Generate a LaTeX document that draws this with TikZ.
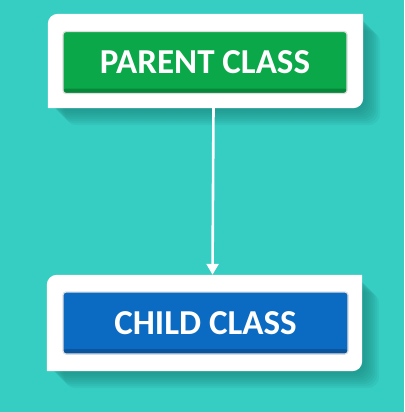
\documentclass[tikz,border=0pt]{standalone}
\usepackage{fontspec}
\setmainfont{Carlito}
\usetikzlibrary{arrows.meta}

\definecolor{bgteal}{HTML}{36CDC2}
\definecolor{shadeteal}{HTML}{1A7F78}
\definecolor{parentgreen}{HTML}{0BA84A}
\definecolor{parentdark}{HTML}{06873A}
\definecolor{childblue}{HTML}{0B6BC2}
\definecolor{childdark}{HTML}{0A559C}

\tikzset{
  card/.style={inner sep=0pt, draw=none},
  classbtn/.style={rounded corners=3pt, draw=gray!25, line width=1.2pt,
    text=white, font=\bfseries\fontsize{35}{38}\selectfont,
    minimum width=284pt, minimum height=62pt, inner sep=0pt},
  inherit/.style={white, line width=2.6pt, -{Triangle[width=12pt,length=11pt]}}
}

\begin{document}
\begin{tikzpicture}[x=1pt,y=-1pt]
		\useasboundingbox (0,0) rectangle (404,412);
		\fill[bgteal] (0,0) rectangle (404,412);
		\node[card, minimum width=315pt, minimum height=94pt] (pcard) at (205.5,61) {};
		\node[card, minimum width=315pt, minimum height=96pt] (ccard) at (204.5,323) {};
		% soft shadows
		\foreach \s in {3,5,...,17}{
			\fill[shadeteal, opacity=0.1, rounded corners=12pt]
				([xshift=\s pt, yshift=-\s pt]pcard.south west) rectangle ([xshift=\s pt, yshift=-\s pt]pcard.north east);
			\fill[shadeteal, opacity=0.1, rounded corners=12pt]
				([xshift=\s pt, yshift=-\s pt]ccard.south west) rectangle ([xshift=\s pt, yshift=-\s pt]ccard.north east);
		}
		% white cards
		\fill[white] (pcard.south west) [rounded corners=10pt] -- (pcard.north west) [sharp corners] -- (pcard.north east) [rounded corners=10pt] -- (pcard.south east) [sharp corners] -- cycle;
		\fill[white] (ccard.south west) [rounded corners=10pt] -- (ccard.north west) [sharp corners] -- (ccard.north east) [rounded corners=10pt] -- (ccard.south east) [sharp corners] -- cycle;
		% buttons
		\node[classbtn, fill=parentgreen, path picture={
			\fill[parentdark] ([yshift=5pt]path picture bounding box.south west) rectangle (path picture bounding box.south east);}]
			(parent) at (205,62.5) {PARENT CLASS};
		\node[classbtn, fill=childblue, minimum width=285pt, path picture={
			\fill[childdark] ([yshift=5pt]path picture bounding box.south west) rectangle (path picture bounding box.south east);}]
			(child) at (205.5,323) {CHILD CLASS};
		\draw[inherit] ([xshift=8pt]pcard.south) -- ([xshift=8pt]ccard.north);
	\end{tikzpicture}
\end{document}
